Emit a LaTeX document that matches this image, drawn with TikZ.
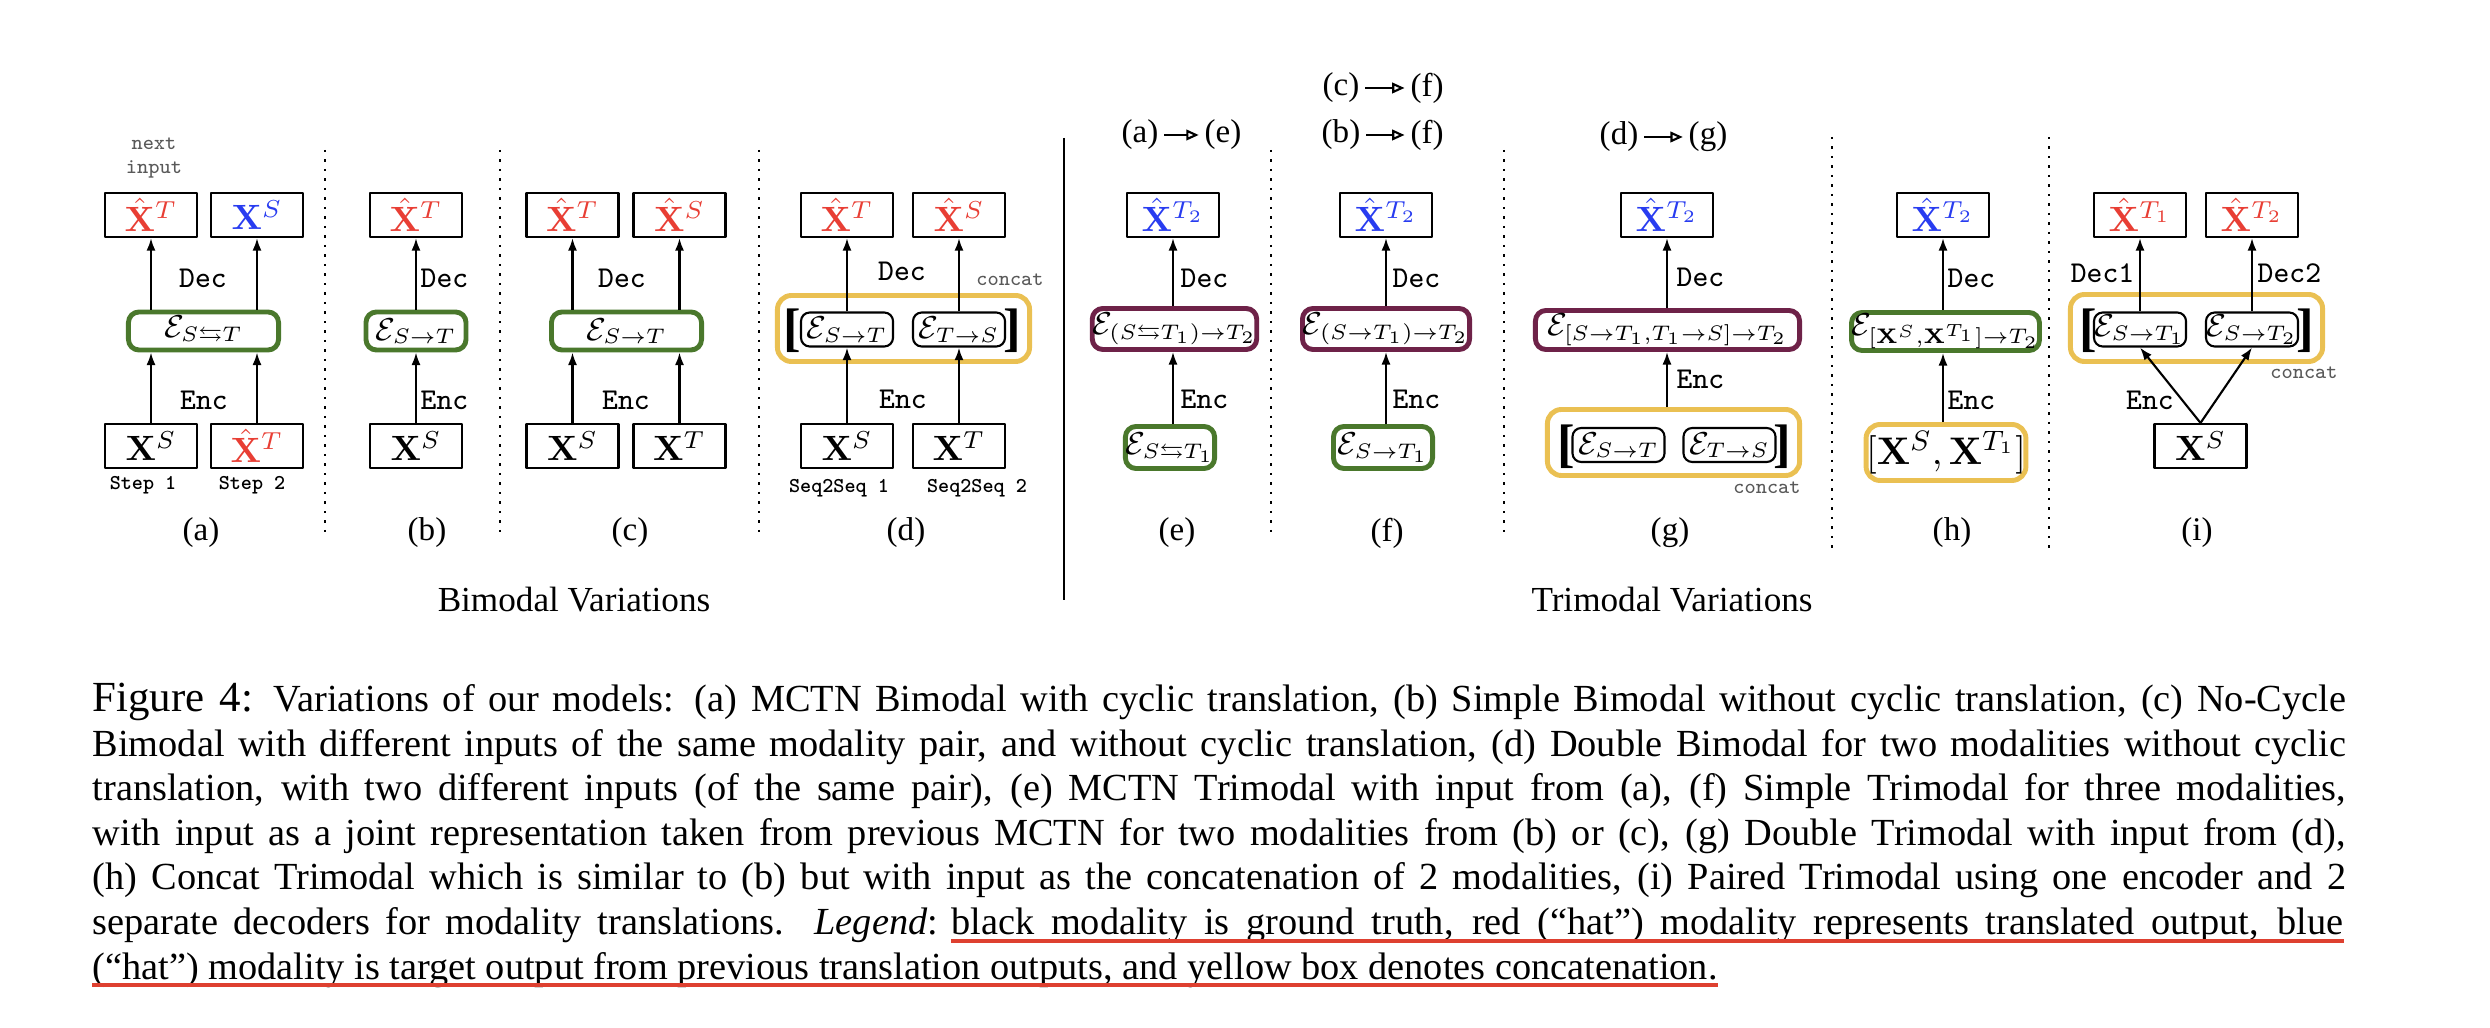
\documentclass[tikz,border=0pt]{standalone}
\usepackage{amsmath,amssymb}
\usepackage[no-math]{fontspec}
\setmainfont{Liberation Serif}
\usetikzlibrary{arrows.meta,positioning,calc}

\definecolor{hatred}{RGB}{232,62,52}
\definecolor{hatblue}{RGB}{40,60,240}
\definecolor{encgreen}{RGB}{74,120,44}
\definecolor{encpurple}{RGB}{110,34,72}
\definecolor{catyellow}{RGB}{234,192,82}
\definecolor{ulred}{RGB}{222,64,48}

\newcommand{\mX}[1]{\mathbf{X}^{#1}}
\newcommand{\mXh}[1]{\hat{\mathbf{X}}^{#1}}
\newcommand{\mE}[1]{\mathcal{E}_{#1}}
\newlength{\capw}\setlength{\capw}{22.52cm}

\begin{document}
\begin{tikzpicture}[x=0.01cm, y=-0.01cm, >={Latex[length=3.6pt,width=2.6pt]}, line join=round,
	modbox/.style={draw, line width=0.6pt, minimum width=0.92cm, minimum height=0.44cm, inner sep=0pt, font=\fontsize{10.4}{12}\selectfont},
	encbox/.style={draw=encgreen, line width=1.4pt, rounded corners=3pt, minimum height=0.38cm, inner sep=0pt, font=\fontsize{9}{11}\selectfont},
	jointbox/.style={encbox, draw=encpurple},
	catbox/.style={draw=catyellow, line width=1.4pt, rounded corners=4pt, inner sep=0pt, font=\fontsize{11}{12}\selectfont},
	inbox/.style={draw, line width=0.6pt, rounded corners=2.5pt, minimum width=0.92cm, minimum height=0.34cm, inner sep=0pt, font=\fontsize{9}{11}\selectfont},
	brk/.style={inner sep=0pt, font=\bfseries\fontsize{15}{15}\selectfont},
	flow/.style={->, line width=0.6pt},
	lbl/.style={inner sep=0pt, font=\ttfamily\fontsize{8.6}{10}\selectfont},
	note/.style={inner sep=0pt, text=black!65, font=\ttfamily\fontsize{6}{6.8}\selectfont},
	steplbl/.style={inner sep=0pt, font=\ttfamily\bfseries\fontsize{6}{7}\selectfont},
	sublbl/.style={inner sep=1.5pt, font=\fontsize{9.4}{11}\selectfont},
	hdrarrow/.style={-{Triangle[open,length=3.5pt,width=3pt]}, line width=0.6pt},
	grp/.style={inner sep=0pt, font=\fontsize{10}{12}\selectfont},
	sep/.style={dotted, line width=0.7pt},
	capline/.style={anchor=base west, inner sep=0pt, font=\fontsize{10.9}{12}\selectfont},
	legendul/.style={draw=ulred, line width=0.95pt}]
	\useasboundingbox (0,0) rectangle (2490,1028);

	% (a)
	\node[modbox, text=hatred] (a1) at (151,215) {$\mXh{T}$};
	\node[modbox, text=hatblue] (a2) at (257,215) {$\mX{S}$};
	\node[encbox, minimum width=1.50cm] (ae) at (203.5,331) {$\mE{S\leftrightarrows T}$};
	\node[modbox] (a3) at (151,446) {$\mX{S}$};
	\node[modbox, text=hatred] (a4) at (257,446) {$\mXh{T}$};
	\draw[flow] (a3) -- (a3 |- ae.south);
	\draw[flow] (a4) -- (a4 |- ae.south);
	\draw[flow] (ae.north -| a1) -- (a1);
	\draw[flow] (ae.north -| a2) -- (a2);
	\node[lbl] at (203,278) {Dec};
	\node[lbl] at (204,400) {Enc};
	\node[note, align=center] at (154,158) {next\\input};
	\node[steplbl] at (143,485) {Step 1};
	\node[steplbl] at (252,485) {Step 2};

	% (b)
	\node[modbox, text=hatred] (b1) at (416,215) {$\mXh{T}$};
	\node[encbox, minimum width=1.00cm] (be) at (416,331) {$\mE{S\to T}$};
	\node[modbox] (b2) at (416,446) {$\mX{S}$};
	\draw[flow] (b2) -- (be);
	\draw[flow] (be) -- (b1);
	\node[lbl, anchor=west] at (420,278) {Dec};
	\node[lbl, anchor=west] at (420,400) {Enc};

	% (c)
	\node[modbox, text=hatred] (c1) at (572.5,215) {$\mXh{T}$};
	\node[modbox, text=hatred] (c2) at (679.5,215) {$\mXh{S}$};
	\node[encbox, minimum width=1.50cm] (ce) at (626.5,331) {$\mE{S\to T}$};
	\node[modbox] (c3) at (572.5,446) {$\mX{S}$};
	\node[modbox] (c4) at (679.5,446) {$\mX{T}$};
	\draw[flow] (c3) -- (c3 |- ce.south);
	\draw[flow] (c4) -- (c4 |- ce.south);
	\draw[flow] (ce.north -| c1) -- (c1);
	\draw[flow] (ce.north -| c2) -- (c2);
	\node[lbl] at (622,278) {Dec};
	\node[lbl] at (626,400) {Enc};

	% (d)
	\node[modbox, text=hatred] (d1) at (847,215) {$\mXh{T}$};
	\node[modbox, text=hatred] (d2) at (959,215) {$\mXh{S}$};
	\node[catbox, minimum width=2.52cm, minimum height=0.66cm] (dc) at (903.5,328.5) {};
	\node[inbox] (de1) at (847,329.5) {$\mE{S\to T}$};
	\node[inbox] (de2) at (959,329.5) {$\mE{T\to S}$};
	\node[brk] (dl) at (792,331) {[};
	\node[brk] (dr) at (1012,331) {]};
	\node[modbox] (d3) at (847,446) {$\mX{S}$};
	\node[modbox] (d4) at (959,446) {$\mX{T}$};
	\draw[flow] (d3) -- (de1);
	\draw[flow] (d4) -- (de2);
	\draw[flow] (de1) -- (d1);
	\draw[flow] (de2) -- (d2);
	\node[lbl] at (902,271) {Dec};
	\node[lbl] at (903,399) {Enc};
	\node[note] at (1010,280) {concat};
	\node[steplbl] at (839,488) {Seq2Seq 1};
	\node[steplbl] at (977,488) {Seq2Seq 2};

	\draw[line width=0.6pt] (1064,138) -- (1064,600);

	% (e)
	\node[sublbl] (ha) at (1140,135) {(a)};
	\node[sublbl] (he) at (1223,135) {(e)};
	\draw[hdrarrow] (ha) -- (he);
	\node[modbox, text=hatblue] (e1) at (1173,215) {$\mXh{T_2}$};
	\node[jointbox, minimum width=1.48cm, minimum height=0.41cm] (ep) at (1174.5,329) {$\mE{(S\leftrightarrows T_1)\to T_2}$};
	\node[encbox, minimum width=0.84cm, minimum height=0.42cm] (ee) at (1170,447.5) {$\mE{S\leftrightarrows T_1}$};
	\draw[flow] (ee.north -| e1) -- (ep.south -| e1);
	\draw[flow] (ep.north -| e1) -- (e1);
	\node[lbl, anchor=west] at (1180,278) {Dec};
	\node[lbl, anchor=west] at (1180,399) {Enc};

	% (f)
	\node[sublbl] (hc) at (1341,88) {(c)};
	\node[sublbl] (hf1) at (1427,88) {(f)};
	\draw[hdrarrow] (hc) -- (hf1);
	\node[sublbl] (hb) at (1341,135) {(b)};
	\node[sublbl] (hf2) at (1427,135) {(f)};
	\draw[hdrarrow] (hb) -- (hf2);
	\node[modbox, text=hatblue] (f1) at (1386,215) {$\mXh{T_2}$};
	\node[jointbox, minimum width=1.67cm, minimum height=0.41cm] (fp) at (1386,329) {$\mE{(S\to T_1)\to T_2}$};
	\node[encbox, minimum width=0.99cm, minimum height=0.42cm] (fe) at (1383,447.5) {$\mE{S\to T_1}$};
	\draw[flow] (fe.north -| f1) -- (fp.south -| f1);
	\draw[flow] (fp) -- (f1);
	\node[lbl, anchor=west] at (1392,278) {Dec};
	\node[lbl, anchor=west] at (1392,399) {Enc};

	% (g)
	\node[sublbl] (hd) at (1619,137) {(d)};
	\node[sublbl] (hg) at (1708,137) {(g)};
	\draw[hdrarrow] (hd) -- (hg);
	\node[modbox, text=hatblue] (g1) at (1667,215) {$\mXh{T_2}$};
	\node[jointbox, minimum width=2.64cm, minimum height=0.39cm] (gp) at (1667.5,330) {$\mE{[S\to T_1,T_1\to S]\to T_2}$};
	\node[catbox, minimum width=2.52cm, minimum height=0.66cm] (gc) at (1673.5,442.5) {};
	\node[inbox] (ge1) at (1618.5,445) {$\mE{S\to T}$};
	\node[inbox] (ge2) at (1729.5,445) {$\mE{T\to S}$};
	\node[brk] (gl) at (1566,447) {[};
	\node[brk] (gr) at (1782,447) {]};
	\draw[flow] (gc.north -| g1) -- (gp.south -| g1);
	\draw[flow] (gp.north -| g1) -- (g1);
	\node[lbl, anchor=west] at (1676,277) {Dec};
	\node[lbl, anchor=west] at (1676,379) {Enc};
	\node[note] at (1767,488) {concat};

	% (h)
	\node[modbox, text=hatblue] (h1) at (1943,215) {$\mXh{T_2}$};
	\node[encbox, minimum width=1.68cm] (he2) at (1945.5,331.5) {$\mE{[\mathbf{X}^S,\mathbf{X}^{T_1}]\to T_2}$};
	\node[catbox, minimum width=1.41cm, minimum height=0.56cm] (hc2) at (1946,452.5) {$[\mathbf{X}^S,\mathbf{X}^{T_1}]$};
	\draw[flow] (hc2.north -| h1) -- (he2.south -| h1);
	\draw[flow] (he2.north -| h1) -- (h1);
	\node[lbl, anchor=west] at (1947,278) {Dec};
	\node[lbl, anchor=west] at (1947,400) {Enc};

	% (i)
	\node[modbox, text=hatred] (i1) at (2140,215) {$\mXh{T_1}$};
	\node[modbox, text=hatred] (i2) at (2252,215) {$\mXh{T_2}$};
	\node[catbox, minimum width=2.52cm, minimum height=0.67cm] (ic) at (2196.5,328) {};
	\node[inbox] (ie1) at (2140,329.5) {$\mE{S\to T_1}$};
	\node[inbox] (ie2) at (2252,329.5) {$\mE{S\to T_2}$};
	\node[brk] (il) at (2088,331) {[};
	\node[brk] (ir) at (2305,331) {]};
	\node[modbox] (i3) at (2200.5,446) {$\mX{S}$};
	\draw[flow] (i3.north) -- (ie1.south);
	\draw[flow] (i3.north) -- (ie2.south);
	\draw[flow] (ie1) -- (i1);
	\draw[flow] (ie2) -- (i2);
	\node[lbl, anchor=east] at (2135,273) {Dec1};
	\node[lbl, anchor=west] at (2257,273) {Dec2};
	\node[lbl] at (2150,400) {Enc};
	\node[note] at (2304,373) {concat};

	\foreach \x in {325,500,759,1271,1504}
		\draw[sep] (\x,150) -- (\x,535);
	\foreach \x in {1832,2049}
		\draw[sep] (\x,137) -- (\x,553);

	\foreach \l/\x in {a/201,b/427,c/630,d/906,e/1177,f/1387,g/1670,h/1952,i/2197}
		\node[sublbl] (lab\l) at (\x,533) {(\l)};
	\node[grp] (bimodal) at (574,600) {Bimodal Variations};
	\node[grp] (trimodal) at (1672,600) {Trimodal Variations};

	% caption
	\node[capline] (cap1) at (92,712) {\hbox to\capw{{\fontsize{12.2}{14}\selectfont Figure 4:} Variations of our models: (a) MCTN Bimodal with cyclic translation, (b) Simple Bimodal without cyclic translation, (c) No-Cycle}};
	\node[capline] (cap2) at (92,756.5) {\hbox to\capw{Bimodal with different inputs of the same modality pair, and without cyclic translation, (d) Double Bimodal for two modalities without cyclic}};
	\node[capline] (cap3) at (92,801) {\hbox to\capw{translation, with two different inputs (of the same pair), (e) MCTN Trimodal with input from (a), (f) Simple Trimodal for three modalities,}};
	\node[capline] (cap4) at (92,845.5) {\hbox to\capw{with input as a joint representation taken from previous MCTN for two modalities from (b) or (c), (g) Double Trimodal with input from (d),}};
	\node[capline] (cap5) at (92,890) {\hbox to\capw{(h) Concat Trimodal which is similar to (b) but with input as the concatenation of 2 modalities, (i) Paired Trimodal using one encoder and 2}};
	\node[capline] (cap6) at (92,934.5) {\hbox to 8.45cm{separate decoders for modality translations. \textit{Legend}:}};
	\node[capline, anchor=base east] (cap6b) at (2344,934.5) {\hbox to 13.91cm{black modality is ground truth, red (“hat”) modality represents translated output, blue}};
	\node[capline] (cap7) at (92,979) {(“hat”) modality is target output from previous translation outputs, and yellow box denotes concatenation.};
	\draw[legendul] ($(cap6b.base west)+(0,6.5)$) -- ($(cap6b.base east)+(0,6.5)$);
	\draw[legendul] ($(cap7.base west)+(0,6)$) -- ($(cap7.base east)+(0,6)$);
\end{tikzpicture}
\end{document}
